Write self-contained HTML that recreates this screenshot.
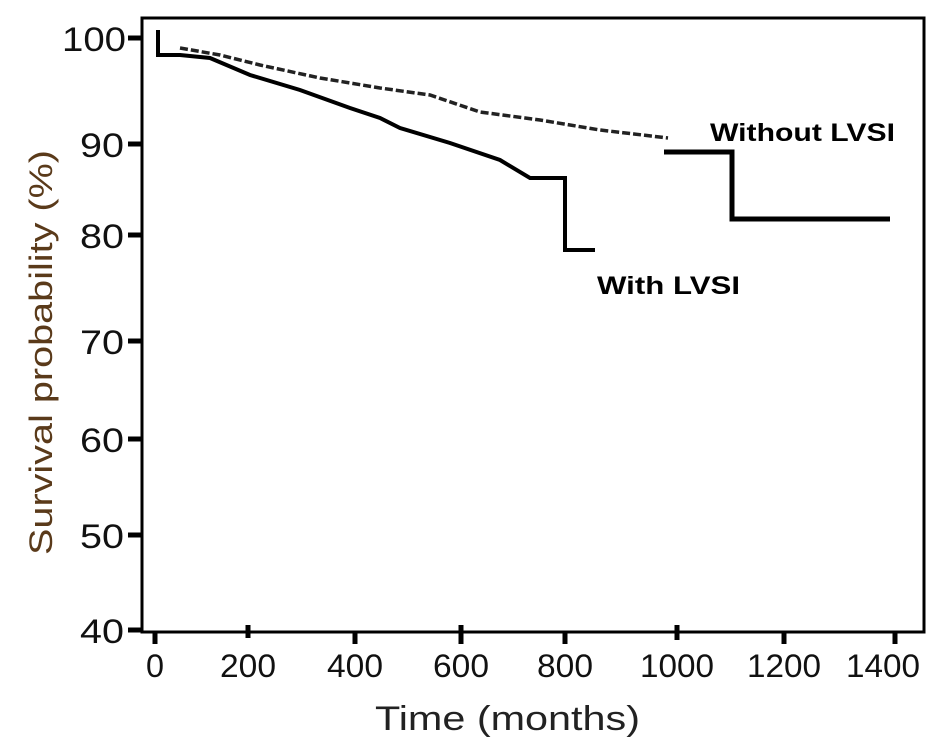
<!DOCTYPE html>
<html><head><style>
body{margin:0;background:#fff;}
svg{display:block;font-family:"Liberation Sans",sans-serif;}
</style></head><body>
<svg width="945" height="746" viewBox="0 0 945 746">
<rect x="142" y="18" width="782" height="614" fill="none" stroke="#000" stroke-width="3"/>
<g stroke="#000" stroke-width="5">
<line x1="128" y1="38" x2="142" y2="38"/>
<line x1="128" y1="144" x2="142" y2="144"/>
<line x1="128" y1="235" x2="142" y2="235"/>
<line x1="128" y1="341" x2="142" y2="341"/>
<line x1="128" y1="439" x2="142" y2="439"/>
<line x1="128" y1="535" x2="142" y2="535"/>
<line x1="128" y1="630" x2="142" y2="630"/>
<line x1="155" y1="632" x2="155" y2="644"/>
<line x1="248" y1="625" x2="248" y2="638"/>
<line x1="355" y1="632" x2="355" y2="644"/>
<line x1="461" y1="625" x2="461" y2="644"/>
<line x1="565" y1="632" x2="565" y2="644"/>
<line x1="677" y1="625" x2="677" y2="640"/>
<line x1="784" y1="632" x2="784" y2="644"/>
<line x1="895" y1="632" x2="895" y2="644"/>
</g>
<g font-size="34" fill="#111">
<text x="62" y="51" textLength="64" lengthAdjust="spacingAndGlyphs">100</text>
<text x="80" y="157" textLength="44" lengthAdjust="spacingAndGlyphs">90</text>
<text x="80" y="248" textLength="44" lengthAdjust="spacingAndGlyphs">80</text>
<text x="80" y="354" textLength="44" lengthAdjust="spacingAndGlyphs">70</text>
<text x="80" y="452" textLength="44" lengthAdjust="spacingAndGlyphs">60</text>
<text x="80" y="548" textLength="44" lengthAdjust="spacingAndGlyphs">50</text>
<text x="80" y="643" textLength="44" lengthAdjust="spacingAndGlyphs">40</text>
</g>
<g font-size="32" fill="#111">
<text x="146" y="677" textLength="18" lengthAdjust="spacingAndGlyphs">0</text>
<text x="220" y="677" textLength="56" lengthAdjust="spacingAndGlyphs">200</text>
<text x="327" y="677" textLength="56" lengthAdjust="spacingAndGlyphs">400</text>
<text x="433" y="677" textLength="56" lengthAdjust="spacingAndGlyphs">600</text>
<text x="537" y="677" textLength="56" lengthAdjust="spacingAndGlyphs">800</text>
<text x="640" y="677" textLength="74" lengthAdjust="spacingAndGlyphs">1000</text>
<text x="747" y="677" textLength="74" lengthAdjust="spacingAndGlyphs">1200</text>
<text x="846" y="677" textLength="74" lengthAdjust="spacingAndGlyphs">1400</text>
</g>
<text x="375" y="730" font-size="34" fill="#222" textLength="265" lengthAdjust="spacingAndGlyphs">Time (months)</text>
<text transform="translate(52,555) rotate(-90)" font-size="32" fill="#5a3a1a" textLength="405" lengthAdjust="spacingAndGlyphs">Survival probability (%)</text>
<path d="M158,30 V55 H180 L210,58 L250,75 L300,90 L350,108 L380,118 L400,128 L450,143 L500,160 L530,178 H565 V250 H595" fill="none" stroke="#000" stroke-width="4"/>
<path d="M180,48 L220,55 L260,65 L320,78 L380,88 L430,95 L480,112 L540,120 L600,130 L668,138" fill="none" stroke="#222" stroke-width="3.5" stroke-dasharray="8,3"/>
<path d="M664,152 H732 V219 H890" fill="none" stroke="#000" stroke-width="5"/>
<text x="710" y="141" font-size="25" font-weight="bold" textLength="185" lengthAdjust="spacingAndGlyphs">Without LVSI</text>
<text x="597" y="294" font-size="25" font-weight="bold" textLength="143" lengthAdjust="spacingAndGlyphs">With LVSI</text>
</svg>
</body></html>
